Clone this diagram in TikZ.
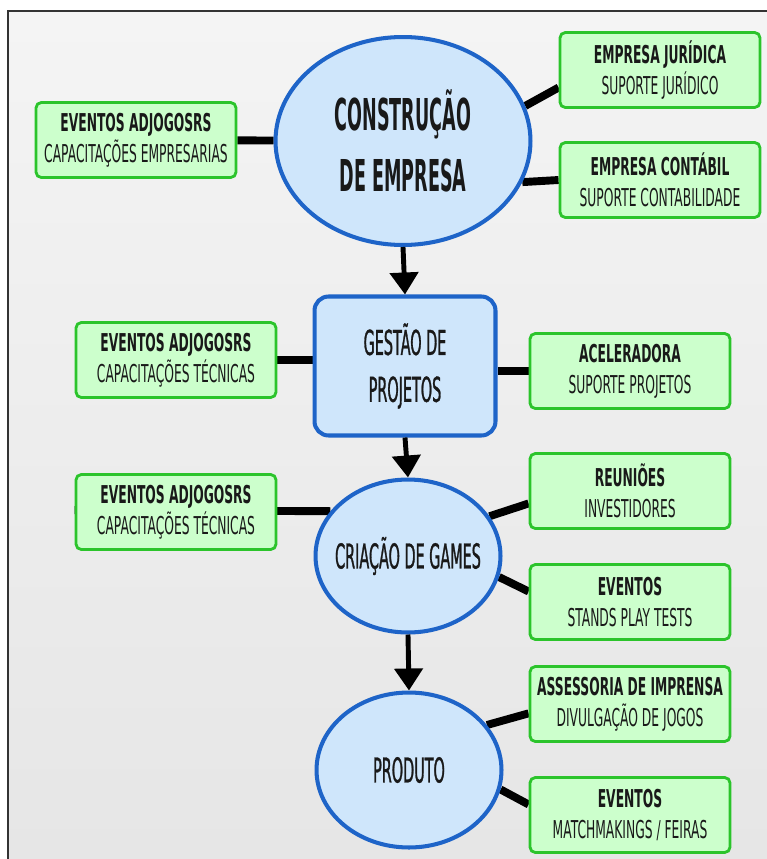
\documentclass[tikz,border=0pt]{standalone}
\usepackage{fontspec}
\newfontfamily\boxfont{DejaVu Sans}[FakeStretch=0.50]
\newfontfamily\shapefont{DejaVu Sans}[FakeStretch=0.42, FakeBold=0.8]
\newfontfamily\bigfont{DejaVu Sans}[FakeStretch=0.40]
\usepackage{xcolor}
\usepackage{tikz}
\usetikzlibrary{arrows.meta,shapes.geometric,backgrounds,calc}
\definecolor{stagefill}{HTML}{CFE6FB}
\definecolor{stageblue}{HTML}{1E64C8}
\definecolor{supfill}{HTML}{CCFFCC}
\definecolor{supgreen}{HTML}{2BC42B}
\definecolor{paperhi}{HTML}{F4F4F4}
\definecolor{paperlo}{HTML}{E6E6E6}

\begin{document}
\begin{tikzpicture}[x=0.02cm, y=-0.02cm,
  stage/.style={ellipse, draw=stageblue, line width=2.3pt, fill=stagefill,
    inner sep=0pt, align=center, text=black!90,
    font=\shapefont\fontsize{19.5}{26.7}\selectfont},
  support/.style={draw=supgreen, line width=1.6pt, fill=supfill,
    rounded corners=3pt, minimum width=4cm, minimum height=1.5cm,
    inner sep=0pt, align=center, text=black!90,
    font=\boxfont\fontsize{14}{17.6}\selectfont},
  link/.style={line width=4.5pt, draw=black},
  flow/.style={-{Triangle[length=4.4mm,width=5.6mm]}, line width=2.8pt}
]
\useasboundingbox (0,0) rectangle (767,859);

\node[stage, minimum width=5.1cm, minimum height=4.16cm,
  font=\bigfont\bfseries\fontsize{25}{35}\selectfont] (constr) at (403,141) {CONSTRUÇÃO\\DE EMPRESA};
\node[support] (evt1) at (136,140) {\textbf{EVENTOS ADJOGOSRS}\\CAPACITAÇÕES EMPRESARIAS};
\node[support] (jur) at (660,70) {\textbf{EMPRESA JURÍDICA}\\SUPORTE JURÍDICO};
\node[support] (cont) at (660,180) {\textbf{EMPRESA CONTÁBIL}\\SUPORTE CONTABILIDADE};

\node[stage, rectangle, rounded corners=8pt, minimum width=3.62cm, minimum height=2.78cm] (gestao) at (405,366) {GESTÃO DE\\PROJETOS};
\node[support] (evt2) at (176,360) {\textbf{EVENTOS ADJOGOSRS}\\CAPACITAÇÕES TÉCNICAS};
\node[support] (acel) at (630,371) {\textbf{ACELERADORA}\\SUPORTE PROJETOS};

\node[stage, minimum width=3.7cm, minimum height=3.06cm] (games) at (408,556) {\makebox[0pt]{CRIAÇÃO DE GAMES}};
\node[support] (evt3) at (176,512) {\textbf{EVENTOS ADJOGOSRS}\\CAPACITAÇÕES TÉCNICAS};
\node[support] (reun) at (630,491) {\textbf{REUNIÕES}\\INVESTIDORES};
\node[support] (stands) at (630,602) {\textbf{EVENTOS}\\STANDS PLAY TESTS};

\node[stage, minimum width=3.7cm, minimum height=3.1cm] (produto) at (409,770) {PRODUTO};
\node[support] (impr) at (630,704) {\textbf{ASSESSORIA DE IMPRENSA}\\DIVULGAÇÃO DE JOGOS};
\node[support] (feiras) at (630,815) {\textbf{EVENTOS}\\MATCHMAKINGS / FEIRAS};

\begin{scope}[on background layer]
\fill[white] (0,0) rectangle (767,859);
\shade[top color=paperhi, bottom color=paperlo] (8,11) rectangle (767,859);
\draw[line width=1.2pt, draw=black!80] (8,859) -- (8,11) -- (767,11);
\draw[link] (evt1) -- (constr);
\draw[link] (constr.16) -- ($(jur.west)!0.45!(jur.south west)$);
\draw[link] (constr.-19) -- (cont.west);
\draw[link] (evt2) -- (evt2 -| gestao.west);
\draw[link] (acel) -- (acel -| gestao.east);
\draw[link] ($(evt3.west)!0.05!(evt3.north west)$) -- (games.150);
\draw[link] (games.26) -- ($(reun.west)!0.32!(reun.south west)$);
\draw[link] (games.-13) -- ($(stands.west)!0.27!(stands.north west)$);
\draw[link] (produto.30) -- ($(impr.west)!0.24!(impr.south west)$);
\draw[link] (produto.-12) -- ($(feiras.west)!0.27!(feiras.north west)$);
\end{scope}

\draw[flow] (constr.south) -- (gestao.north);
\draw[flow] (gestao.south) -- (games.north);
\draw[flow] (games.south) -- (produto.north);
\end{tikzpicture}
\end{document}
